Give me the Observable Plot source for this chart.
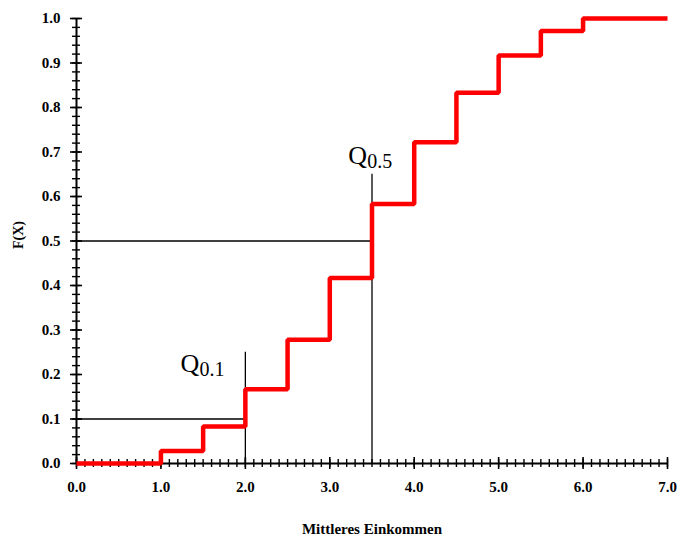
<!DOCTYPE html>
<html>
<head>
<meta charset="utf-8">
<script src="https://cdn.jsdelivr.net/npm/d3@7"></script>
<script src="https://cdn.jsdelivr.net/npm/@observablehq/plot@0.6"></script>
<style>
  html, body { margin: 0; padding: 0; background: #fff; }
  #chart svg { display: block; }
</style>
</head>
<body>
<div id="chart"></div>
<script>
// Step values of the distribution function F(X)
const incomes = [0, 1, 1.5, 2, 2.5, 3, 3.5, 4, 4.5, 5, 5.5, 6, 7];
const cumulative = [0, 0.028, 0.083, 0.167, 0.278, 0.417, 0.583, 0.722, 0.833, 0.917, 0.972, 1.0, 1.0];

// Quantile guide lines
const quantileProbs = [0.1, 0.5];
const quantileValues = [2.0, 3.5];
const quantileLineTops = [0.25, 0.65];
const quantileNames = ["0.1", "0.5"];
const quantileLabelX = [1.232, 3.22];
const quantileLabelY = [0.2045, 0.674];

// Axis ticks
const xMajor = [0, 1, 2, 3, 4, 5, 6, 7];
const xMinor = d3.range(0, 71).map(i => i / 10);
const yMajor = [0, 0.1, 0.2, 0.3, 0.4, 0.5, 0.6, 0.7, 0.8, 0.9, 1.0];
const yMinor = d3.range(0, 51).map(i => i / 50);

const xTitle = "Mittleres Einkommen";
const yTitle = "F(X)";

const steps = incomes.map((x, i) => ({x, F: cumulative[i]}));
const guides = quantileProbs.map((p, i) => ({p, q: quantileValues[i], top: quantileLineTops[i], name: quantileNames[i], lx: quantileLabelX[i], ly: quantileLabelY[i]}));

const serif = "'Liberation Serif', 'Times New Roman', serif";

const chart = Plot.plot({
  width: 677,
  height: 537,
  marginLeft: 76,
  marginRight: 10,
  marginTop: 18,
  marginBottom: 74,
  style: {fontFamily: serif, background: "#fff", color: "#000"},
  x: {domain: [0, 7], axis: null},
  y: {domain: [0, 1], axis: null},
  marks: [
    // quantile guides
    Plot.ruleY(guides, {y: "p", x1: 0, x2: "q", stroke: "#000", strokeWidth: 1.3}),
    Plot.ruleX(guides, {x: "q", y1: 0, y2: "top", stroke: "#000", strokeWidth: 1.3}),
    // axis lines
    Plot.ruleY([0], {x1: 0, x2: 7, stroke: "#000", strokeWidth: 2}),
    Plot.ruleX([0], {y1: 0, y2: 1, stroke: "#000", strokeWidth: 2}),
    // minor & major ticks crossing the axes
    Plot.axisX({ticks: xMinor, tickSize: 8, dy: -4, tickFormat: () => "", label: null, strokeWidth: 1.4}),
    Plot.axisX({ticks: xMajor, tickSize: 12, dy: -6, tickFormat: () => "", label: null, strokeWidth: 1.6}),
    Plot.axisY({ticks: yMinor, tickSize: 8, dx: 4, tickFormat: () => "", label: null, strokeWidth: 1.4}),
    Plot.axisY({ticks: yMajor, tickSize: 12, dx: 6, tickFormat: () => "", label: null, strokeWidth: 1.6}),
    // tick labels
    Plot.axisX({ticks: xMajor, tickSize: 0, tickPadding: 18, tickFormat: ".1f", label: null, fontSize: 15, fontWeight: "bold"}),
    Plot.axisY({ticks: yMajor, tickSize: 0, tickPadding: 16, tickFormat: ".1f", label: null, fontSize: 15, fontWeight: "bold"}),
    // step function
    Plot.line(steps, {x: "x", y: "F", curve: "step-after", stroke: "#ff0000", strokeWidth: 4.5, strokeLinejoin: "miter", strokeLinecap: "butt"}),
    // quantile labels
    Plot.text(guides, {x: "lx", y: "ly", text: () => "Q", textAnchor: "start", lineAnchor: "bottom", fontSize: 26, fill: "#000"}),
    Plot.text(guides, {x: "lx", y: "ly", text: "name", textAnchor: "start", lineAnchor: "bottom", fontSize: 20, dx: 19, dy: 4, fill: "#000"}),
    // axis titles
    Plot.text([xTitle], {frameAnchor: "bottom", dy: 70, text: d => d, fontSize: 15, fontWeight: "bold", lineAnchor: "bottom"}),
    Plot.text([yTitle], {frameAnchor: "left", dx: -58, dy: 8, text: d => d, rotate: -90, fontSize: 14, fontWeight: "bold"})
  ]
});
document.getElementById("chart").appendChild(chart);
</script>
</body>
</html>
